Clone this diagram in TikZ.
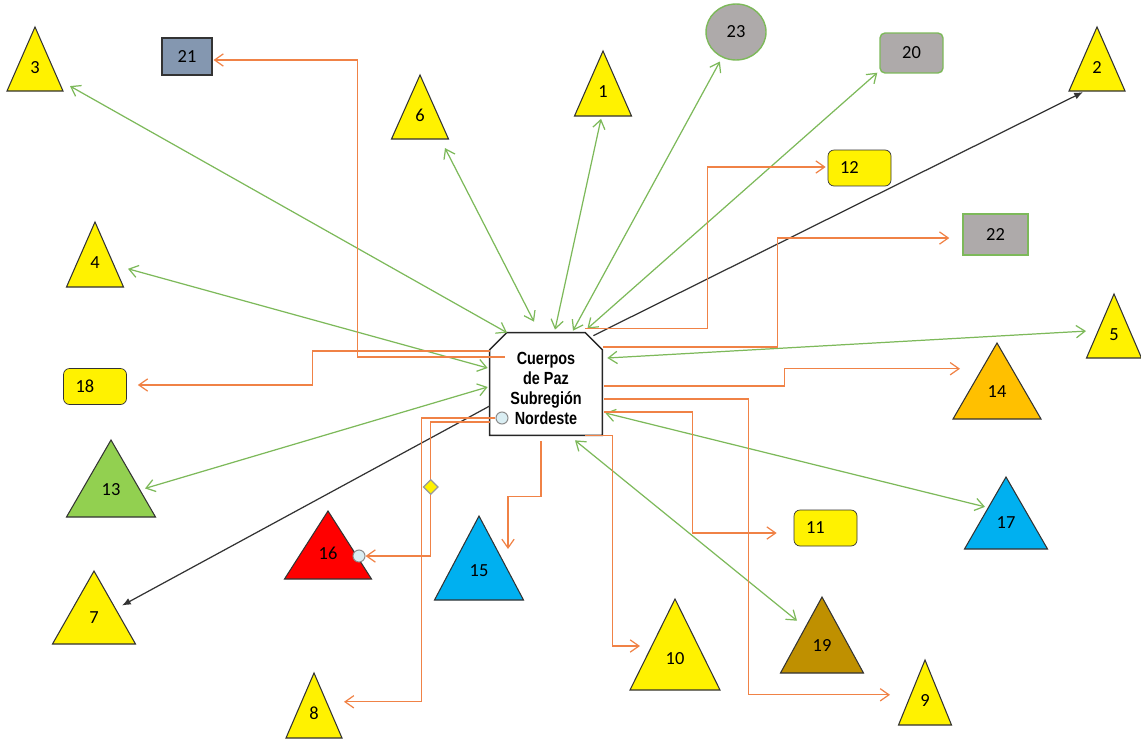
\documentclass[tikz,border=0pt]{standalone}
\usepackage{fontspec}
\setmainfont{Carlito}
\newfontfamily\narrowsans[FakeStretch=0.82]{Liberation Sans}
\usepackage{tikz}
\usetikzlibrary{arrows.meta,shapes.geometric}

\definecolor{lnorange}{RGB}{240,130,70}
\definecolor{lngreen}{RGB}{125,185,90}
\definecolor{boxgrey}{RGB}{174,170,170}
\definecolor{boxslate}{RGB}{132,151,176}
\definecolor{trigreen}{RGB}{146,208,80}
\definecolor{triblue}{RGB}{0,176,240}
\definecolor{triorange}{RGB}{255,192,0}
\definecolor{tribrown}{RGB}{191,144,0}
\definecolor{pinblue}{RGB}{218,238,243}

\begin{document}
\begin{tikzpicture}[x=0.02cm, y=-0.02cm,
	every node/.style={font=\fontsize{10.5}{12}\selectfont},
	link/.style={lngreen, line width=0.7pt, {Straight Barb[length=5pt,width=7pt]}-{Straight Barb[length=5pt,width=7pt]}},
	feed/.style={lnorange, line width=0.7pt, -{Straight Barb[length=5pt,width=7pt]}},
	reach/.style={black!80, line width=0.7pt, -{Latex[length=5pt,width=4pt]}},
	notebox/.style={draw=black!80, fill=yellow, rounded corners=0.12cm, minimum height=0.72cm, text width=0.78cm, inner xsep=0.24cm, align=left},
	greybox/.style={draw=lngreen, fill=boxgrey, line width=0.8pt, inner sep=0pt},
	pin/.style={circle, draw=black!45, fill=pinblue, inner sep=0pt, minimum size=0.24cm, line width=0.6pt}
	]
	\useasboundingbox (0,0) rectangle (1141,740);
	
	% triangles: name/apex x/apex y/half width/height/fill
	\foreach \nm/\ax/\ay/\hw/\ht/\col in {3/35/27/28/64/yellow, 6/420/75/28.5/64/yellow, 1/603/51/28.5/65/yellow,
		2/1097/27/28/64/yellow, 4/95/222/28.5/65/yellow, 5/1114/294/27.5/64/yellow, 14/997/343/44/76/triorange,
		13/111/440/44.5/77/trigreen, 16/328/511/43.5/68/red, 15/479/516/44.5/84/triblue, 17/1006/477/41.5/72/triblue,
		7/94/571/41.5/73/yellow, 10/675/599/45/91/yellow, 19/822/597/41.5/76/tribrown, 8/314/673/28/65/yellow,
		9/925/660/26.5/65/yellow} {
		\filldraw[fill=\col, draw=black!80, line width=0.6pt] (\ax,\ay) -- (\ax+\hw,\ay+\ht) -- (\ax-\hw,\ay+\ht) -- cycle;
		\node (t\nm) at (\ax,\ay+0.72*\ht) {\nm};
	}
	
	% boxes
	\node[draw=black!80, fill=boxslate, line width=0.6pt, minimum width=1cm, minimum height=0.74cm] (n21) at (187,56.5) {21};
	\node[greybox, ellipse, minimum width=1.2cm, minimum height=1.12cm] (n23) at (736,32) {23};
	\node[greybox, rounded corners=0.1cm, minimum width=1.26cm, minimum height=0.8cm] (n20) at (911.5,53) {20};
	\node[greybox, minimum width=1.3cm, minimum height=0.82cm] (n22) at (995.5,234.5) {22};
	\node[notebox] (n12) at (859.5,168) {12};
	\node[notebox] (n18) at (95,386.5) {18};
	\node[notebox] (n11) at (825.5,528) {11};
	
	% hub
	\node[minimum width=2.24cm, minimum height=2.04cm, inner sep=0pt] (cp) at (546,384) {};
	\draw[black!85, line width=0.8pt] (cp.south west) -- ([shift={(0,17)}]cp.north west) -- ([shift={(17,0)}]cp.north west)
		-- ([shift={(-17,0)}]cp.north east) -- ([shift={(0,17)}]cp.north east) -- (cp.south east) -- cycle;
	\node[align=center, font=\narrowsans\bfseries\fontsize{10}{11.4}\selectfont] (cptext) at ([shift={(0,4)}]cp.center) {Cuerpos\\de Paz\\Subregión\\Nordeste};
	
	\node[pin] (pin1) at (502,418) {};
	\node[pin] (pin2) at (359,556) {};
	
	% green two-way links
	\draw[link] ([shift={(-39,0)}]cp.north) -- ([shift={(35,13)}]t3.center);
	\draw[link] ([shift={(-12,-11)}]cp.north) -- ([shift={(25,27)}]t6.center);
	\draw[link] ([shift={(9,-3)}]cp.north) -- ([shift={(-2,21)}]t1.center);
	\draw[link, shorten >=0.09cm] ([shift={(27,-2)}]cp.north) -- (n23);
	\draw[link] ([shift={(-15,-4)}]cp.north east) -- ([shift={(-2,-1)}]n20.south west);
	\draw[link] ([shift={(-2,-16)}]cp.west) -- ([shift={(33,0)}]t4.center);
	\draw[link] ([shift={(-2,3)}]cp.west) -- ([shift={(34,-7)}]t13.center);
	\draw[link] ([shift={(5,-26)}]cp.east) -- ([shift={(-28,-9)}]t5.center);
	\draw[link] ([shift={(3,29)}]cp.east) -- ([shift={(-21,-22)}]t17.center);
	\draw[link] ([shift={(29,5)}]cp.south) -- ([shift={(-25,-31)}]t19.center);
	
	% black arrows
	\draw[reach] ([shift={(-9,3)}]cp.north east) -- ([shift={(-14,19)}]t2.center);
	\draw[reach] ([shift={(0,22)}]cp.west) -- ([shift={(28,-18)}]t7.center);
	
	% orange elbow connectors
	\draw[feed] ([shift={(15,-27)}]cp.west) -- ++(-147,0) |- ([shift={(1,3.5)}]n21.east);
	\draw[feed] ([shift={(0,-33)}]cp.west) -- ++(-177,0) |- ([shift={(11,-1.5)}]n18.east);
	\draw[feed] ([shift={(-17,-4)}]cp.north east) -- ++(122,0) |- ([shift={(-2,-1)}]n12.west);
	\draw[feed] ([shift={(1,-37)}]cp.east) -- ++(174,0) |- ([shift={(-13,3.5)}]n22.west);
	\draw[feed] ([shift={(2,2)}]cp.east) -- ++(180,0) |- ([shift={(-37,-29)}]t14.center);
	\draw[feed] ([shift={(2,15)}]cp.east) -- ++(144,0) |- ([shift={(-35,-12)}]t9.center);
	\draw[feed] ([shift={(2,28)}]cp.east) -- ++(88,0) |- ([shift={(-17,5)}]n11.west);
	\draw[feed] ([shift={(-17,0)}]cp.south east) -- ++(27,0) |- ([shift={(-35,-18.5)}]t10.center);
	\draw[feed] ([shift={(-5,6)}]cp.south) -- ++(0,55) -| ([shift={(29,-27.5)}]t15.center);
	\draw[feed] (pin1.west) -- ++(-74,0) |- ([shift={(30,-18)}]t8.center);
	\draw[feed] ([shift={(0,38)}]cp.west) -- ++(-59,0) -- ++(0,65)
		node[diamond, draw=black!40, fill=yellow, inner sep=0pt, minimum size=0.3cm] (dia) {} |- (pin2.east);
\end{tikzpicture}
\end{document}
